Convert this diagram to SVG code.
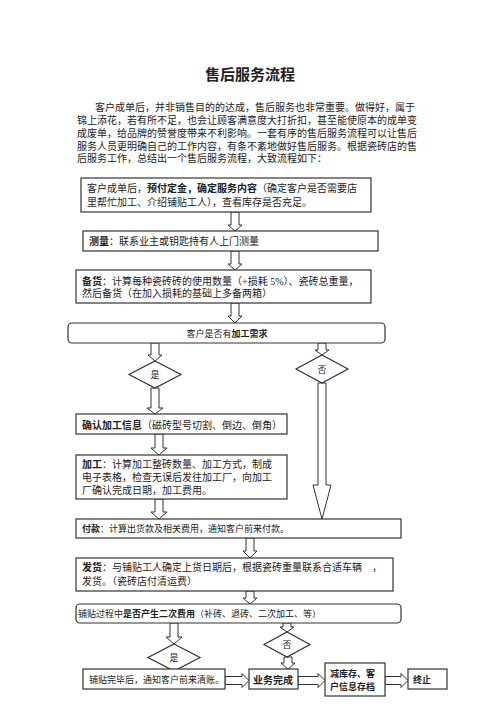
<svg xmlns="http://www.w3.org/2000/svg" width="500" height="708" viewBox="0 0 500 708">
<style>
text{font-family:"Liberation Serif","Noto Sans CJK SC",serif;fill:#222;font-size:10px}
.t{font-size:15px;font-weight:bold;text-anchor:middle}
.s{font-size:9px}
.b{font-weight:bold}
.c{text-anchor:middle}
.box{fill:#fff;stroke:#333;stroke-width:1.2}
.ar{fill:#fff;stroke:#333;stroke-width:1}
</style>
<rect width="500" height="708" fill="#fff"/>
<g id="title"><text class="t" x="250" y="80">售后服务流程</text></g>
<g id="intro">
<text x="95" y="111">客户成单后，并非销售目的的达成，售后服务也非常重要。做得好，属于</text>
<text x="77" y="124">锦上添花，若有所不足，也会让顾客满意度大打折扣，甚至能使原本的成单变</text>
<text x="77" y="137">成废单，给品牌的赞誉度带来不利影响。一套有序的售后服务流程可以让售后</text>
<text x="77" y="150">服务人员更明确自己的工作内容，有条不紊地做好售后服务。根据瓷砖店的售</text>
<text x="77" y="162">后服务工作，总结出一个售后服务流程，大致流程如下：</text>
</g>
<g id="connectors">
<path class="ar" d="M231,212 V225 H228 L235,231 L242,225 H239 V212 Z"/>
<path class="ar" d="M231,251 V264 H228 L235,270 L242,264 H239 V251 Z"/>
<path class="ar" d="M231,303 V316 H228 L235,323 L242,316 H239 V303 Z"/>
<path class="ar" d="M151,343 V355 H148 L155,361 L162,355 H159 V343 Z"/>
<path class="ar" d="M318,343 V350 H315 L322,355 L329,350 H326 V343 Z"/>
<path class="ar" d="M151,388 V408 H147 L155,414 L163,408 H159 V388 Z"/>
<path class="ar" d="M318,383 V485 H313 L322,519 L331,485 H326 V383 Z"/>
<path class="ar" d="M155,434 V448 H151 L159,455 L167,448 H163 V434 Z"/>
<path class="ar" d="M155,499 V512 H151 L159,519 L167,512 H163 V499 Z"/>
<path class="ar" d="M246,538 V551 H243 L250,558 L257,551 H254 V538 Z"/>
<path class="ar" d="M246,591 V598 H243 L250,604 L257,598 H254 V591 Z"/>
<path class="ar" d="M170,623 V637 H166 L174,644 L182,637 H178 V623 Z"/>
<path class="ar" d="M283,623 V627 H280 L287,632 L294,627 H291 V623 Z"/>
<path class="ar" d="M284,657 V663 H281 L288,669 L295,663 H292 V657 Z"/>
<path class="ar" d="M225,676.5 H242 V673.5 L249,680.5 L242,687.5 V684.5 H225 Z"/>
<path class="ar" d="M298,676.5 H318 V673.5 L325,680.5 L318,687.5 V684.5 H298 Z"/>
<path class="ar" d="M385,676.5 H401 V673.5 L408,680.5 L401,687.5 V684.5 H385 Z"/>
</g>
<g id="n1"><rect class="box" x="81" y="178" width="290" height="34"/>
<text x="87" y="192">客户成单后，<tspan class="b">预付定金，确定服务内容</tspan>（确定客户是否需要店</text>
<text x="87" y="206">里帮忙加工、介绍铺贴工人），查看库存是否充足。</text></g>
<g id="n2"><rect class="box" x="83" y="231" width="295" height="20"/>
<text x="89" y="245"><tspan class="b">测量</tspan>：联系业主或钥匙持有人上门测量</text></g>
<g id="n3"><rect class="box" x="76" y="270" width="295" height="33"/>
<text x="82" y="285"><tspan class="b">备货</tspan>：计算每种瓷砖砖的使用数量（+损耗 5%）、瓷砖总重量，</text>
<text x="82" y="297">然后备货（在加入损耗的基础上多备两箱）</text></g>
<g id="n4"><rect class="box" x="68" y="323" width="317" height="20" rx="4"/>
<text class="s c" x="227" y="337">客户是否有<tspan class="b">加工需求</tspan></text></g>
<g id="d1"><path class="box" d="M155,361 L181,374.5 L155,388 L129,374.5 Z"/>
<text class="s c" x="155" y="378">是</text></g>
<g id="d2"><path class="box" d="M322,355 L348,369 L322,383 L296,369 Z"/>
<text class="s c" x="322" y="373">否</text></g>
<g id="n5"><rect class="box" x="76" y="414" width="211" height="20"/>
<text x="82" y="429"><tspan class="b">确认加工信息</tspan>（磁砖型号切割、倒边、倒角）</text></g>
<g id="n6"><rect class="box" x="76" y="455" width="211" height="44"/>
<text x="82" y="468"><tspan class="b">加工</tspan>：计算加工整砖数量、加工方式，制成</text>
<text x="82" y="481">电子表格，检查无误后发往加工厂，向加工</text>
<text x="82" y="494">厂确认完成日期，加工费用。</text></g>
<g id="n7"><rect class="box" x="76" y="519" width="325" height="19"/>
<text class="s" x="82" y="532"><tspan class="b">付款</tspan>：计算出货款及相关费用，通知客户前来付款。</text></g>
<g id="n8"><rect class="box" x="76" y="558" width="317" height="33"/>
<text x="82" y="571"><tspan class="b">发货</tspan>：与铺贴工人确定上货日期后，根据瓷砖重量联系合适车辆　，</text>
<text x="82" y="585">发货。（瓷砖店付清运费）</text></g>
<g id="n9"><rect class="box" x="76" y="604" width="325" height="19" rx="4"/>
<text class="s" x="78" y="617">铺贴过程中<tspan class="b">是否产生二次费用</tspan>（补砖、退砖、二次加工、等）</text></g>
<g id="d3"><path class="box" d="M174,644 L200,657.5 L174,671 L148,657.5 Z"/>
<text class="s c" x="174" y="661">是</text></g>
<g id="d4"><path class="box" d="M287,632 L310,644.5 L287,657 L264,644.5 Z"/>
<text class="s c" x="287" y="648">否</text></g>
<g id="n10"><rect class="box" x="83" y="669" width="142" height="20"/>
<text class="s" x="89" y="683">铺贴完毕后，通知客户前来清账。</text></g>
<g id="n11"><rect class="box" x="249" y="669" width="49" height="20"/>
<text class="b" x="253" y="683.5">业务完成</text></g>
<g id="n12"><rect class="box" x="325" y="663" width="60" height="33"/>
<text class="s b" x="330" y="677">减库存、客</text>
<text class="s b" x="330" y="690">户信息存档</text></g>
<g id="n13"><rect class="box" x="408" y="669" width="39" height="20"/>
<text class="s b" x="413" y="683">终止</text></g>
</svg>
